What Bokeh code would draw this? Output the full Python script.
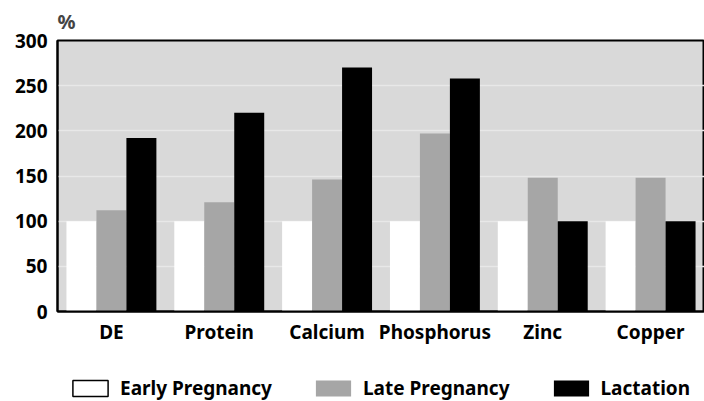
from bokeh.plotting import figure
from bokeh.layouts import column
from bokeh.models import Legend, LegendItem, FactorRange, Range1d, ColumnDataSource
from bokeh.transform import dodge
from bokeh.embed import file_html
from bokeh.resources import INLINE

categories = ["DE", "Protein", "Calcium", "Phosphorus", "Zinc", "Copper"]
early = [100, 100, 100, 100, 100, 100]
late = [112, 121, 146, 197, 148, 148]
lactation = [192, 220, 270, 258, 100, 100]
series_names = ["Early Pregnancy", "Late Pregnancy", "Lactation"]
series_colors = ["white", "#a6a6a6", "black"]
y_ticks = [0, 50, 100, 150, 200, 250, 300]

FONT = "Noto Sans"
FS = "19px"
src = ColumnDataSource(dict(cat=categories, early=early, late=late, lac=lactation))

p = figure(frame_width=647, frame_height=271, x_range=FactorRange(*categories, range_padding=0),
           y_range=Range1d(0, 300), output_backend="svg", toolbar_location=None,
           min_border_left=57, min_border_right=0, min_border_top=40, min_border_bottom=45,
           title="%")
p.title.text_font = FONT
p.title.text_font_size = "20px"
p.title.text_font_style = "bold"
p.title.align = "left"
p.title.offset = 0
p.title.standoff = 11

p.background_fill_color = "#d9d9d9"
p.border_fill_color = "white"
p.outline_line_color = "black"
p.outline_line_width = 2

w = 0.278
p.vbar(x=dodge("cat", -w, range=p.x_range), top="early", width=w, source=src,
       fill_color=series_colors[0], line_color=None)
p.vbar(x=dodge("cat", 0, range=p.x_range), top="late", width=w, source=src,
       fill_color=series_colors[1], line_color=None)
p.vbar(x=dodge("cat", w, range=p.x_range), top="lac", width=w, source=src,
       fill_color=series_colors[2], line_color=None)

p.xgrid.grid_line_color = None
p.ygrid.grid_line_color = "#e8e8e8"
p.ygrid.grid_line_width = 1.5
p.yaxis.ticker = y_ticks

for ax in (p.xaxis[0], p.yaxis[0]):
    ax.major_label_text_font = FONT
    ax.major_label_text_font_style = "bold"
    ax.major_label_text_font_size = FS
    ax.major_label_text_color = "black"
    ax.axis_line_color = "black"
    ax.axis_line_width = 2
    ax.major_tick_line_color = None
    ax.minor_tick_line_color = None
    ax.major_tick_out = 0
    ax.major_tick_in = 0
p.yaxis.major_label_standoff = 10
p.xaxis.major_label_standoff = 7

# legend strip below the chart
lf = figure(width=704, height=45, x_range=Range1d(0, 1), y_range=Range1d(0, 1),
            output_backend="svg", toolbar_location=None,
            x_axis_location=None, y_axis_location=None,
            min_border_left=0, min_border_right=0, min_border_top=0, min_border_bottom=0)
lf.outline_line_color = None
lf.grid.grid_line_color = None
lf.background_fill_color = "white"
nan = float("nan")
dummy = ColumnDataSource(dict(l=[nan], r=[nan], t=[nan], b=[nan]))
items = []
for name, col in zip(series_names, series_colors):
    r = lf.quad(left="l", right="r", top="t", bottom="b", source=dummy, fill_color=col,
                line_color="black" if col == "white" else None, line_width=1.5)
    items.append(LegendItem(label=name, renderers=[r]))

legend = Legend(items=items, orientation="horizontal", location=(11, 0),
                glyph_width=44, glyph_height=20, label_standoff=8, spacing=39,
                label_text_font=FONT, label_text_font_style="bold",
                label_text_font_size=FS, label_text_color="black",
                border_line_color=None, background_fill_alpha=0,
                margin=0, padding=0)
legend.label_height = 18
lf.add_layout(legend, "center")

layout = column(p, lf, spacing=0)
open("out.html", "w").write(file_html(layout, INLINE))
